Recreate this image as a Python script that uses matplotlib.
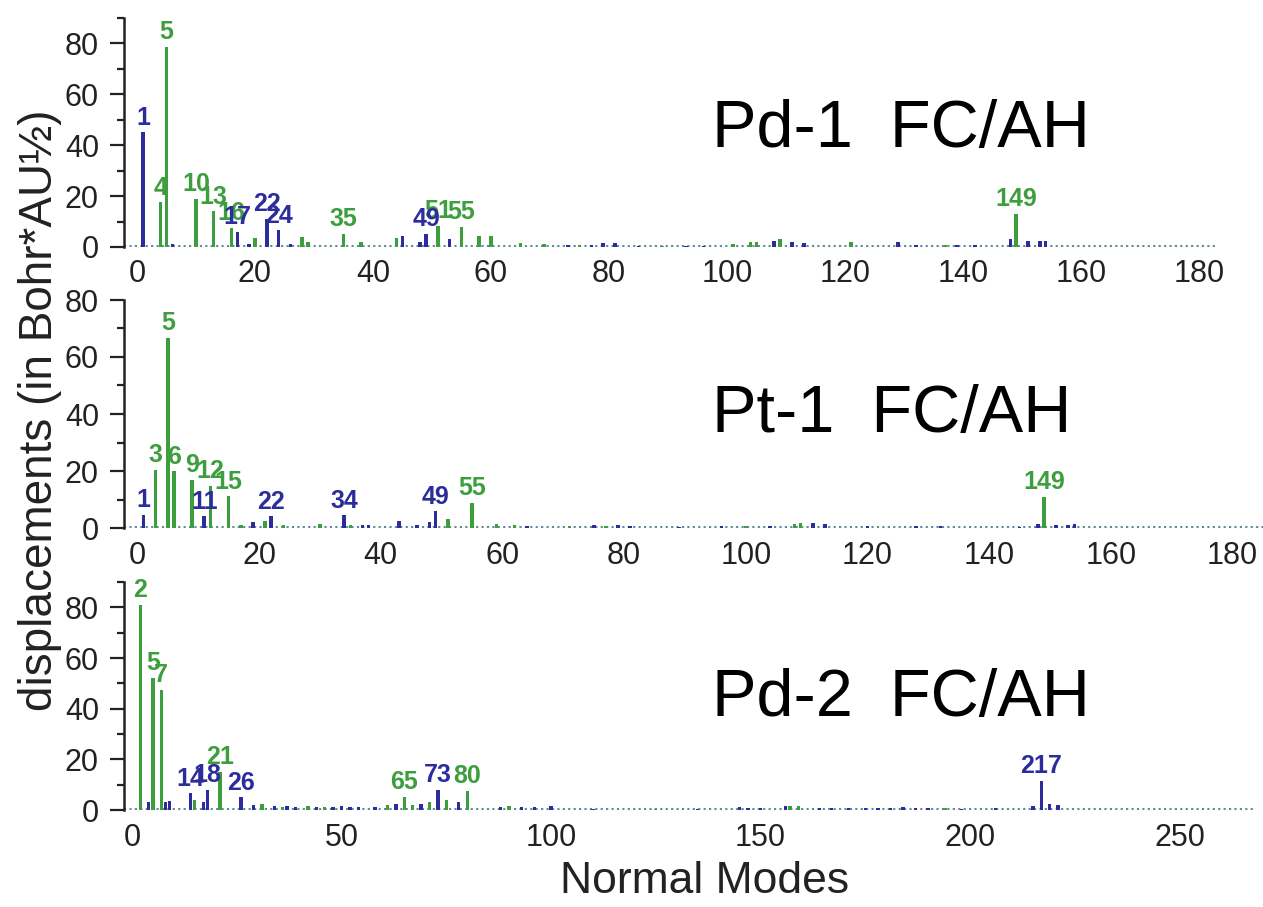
import matplotlib
matplotlib.use('Agg')
import matplotlib.pyplot as plt
from matplotlib.ticker import MultipleLocator

plt.rcParams['font.family'] = ['Liberation Sans', 'DejaVu Sans']

GREEN = '#3d9e3d'
BLUE = '#2c2c9c'

# Pd-1 FC/AH
pd1_green_modes = [4, 5, 10, 13, 16, 20, 28, 29, 35, 38, 44, 51, 55, 58, 60, 65, 69, 75, 89, 101, 104, 105, 109, 121, 137, 149]
pd1_green_vals = [17.5, 78.5, 18.8, 14.0, 7.5, 3.6, 4.0, 2.0, 5.2, 2.0, 3.5, 8.2, 7.8, 4.5, 4.5, 1.5, 1.0, 0.6, 0.5, 1.0, 2.0, 2.0, 3.0, 2.0, 0.6, 13.0]
pd1_blue_modes = [1, 6, 17, 19, 22, 24, 26, 45, 48, 49, 53, 73, 77, 79, 81, 85, 93, 96, 108, 111, 113, 129, 132, 139, 142, 148, 151, 153, 154]
pd1_blue_vals = [45.0, 1.0, 6.0, 1.0, 11.0, 6.5, 1.0, 4.5, 2.0, 5.2, 3.0, 0.6, 0.6, 1.5, 1.5, 0.5, 0.5, 0.5, 2.5, 2.0, 1.5, 2.0, 0.6, 0.6, 0.6, 3.0, 2.5, 2.5, 2.5]
pd1_green_labels = [4, 5, 10, 13, 16, 35, 51, 55, 149]
pd1_blue_labels = [1, 17, 22, 24, 49]

# Pt-1 FC/AH
pt1_green_modes = [3, 5, 6, 9, 12, 15, 17, 21, 24, 30, 35, 51, 55, 59, 62, 71, 77, 100, 108, 109, 149]
pt1_green_vals = [20.4, 66.6, 19.9, 17.0, 14.8, 11.1, 1.0, 2.5, 1.0, 1.5, 1.0, 3.0, 8.8, 1.5, 1.0, 0.6, 0.8, 0.6, 1.5, 1.8, 10.9]
pt1_blue_modes = [1, 11, 19, 22, 34, 37, 38, 43, 46, 48, 49, 64, 75, 79, 81, 89, 96, 104, 111, 113, 120, 128, 132, 145, 148, 151, 153, 154]
pt1_blue_vals = [4.7, 4.1, 2.0, 4.1, 4.4, 1.0, 1.0, 2.5, 1.0, 2.0, 5.8, 0.8, 1.0, 1.0, 0.8, 0.5, 0.8, 0.8, 1.8, 1.5, 0.8, 0.8, 0.8, 0.5, 1.5, 1.2, 1.0, 1.5]
pt1_green_labels = [3, 5, 6, 9, 12, 15, 55, 149]
pt1_blue_labels = [1, 11, 22, 34, 49]

# Pd-2 FC/AH
pd2_green_modes = [2, 5, 7, 15, 21, 31, 36, 42, 46, 61, 65, 67, 71, 75, 80, 90, 125, 157, 159, 194]
pd2_green_vals = [80.9, 52.0, 47.4, 4.0, 15.0, 2.5, 1.0, 1.5, 1.0, 2.0, 5.3, 2.0, 3.0, 4.0, 7.6, 1.5, 0.5, 1.5, 1.5, 0.6]
pd2_blue_modes = [4, 8, 9, 14, 17, 18, 26, 29, 34, 37, 39, 44, 48, 50, 52, 54, 58, 63, 69, 73, 78, 88, 93, 96, 100,
                  110, 135, 145, 147, 150, 156, 164, 167, 171, 175, 178, 181, 184, 187, 190, 198, 206, 215, 217, 219, 221]
pd2_blue_vals = [3.0, 3.0, 3.5, 6.6, 3.0, 7.9, 5.0, 2.0, 1.5, 1.5, 1.0, 1.0, 1.0, 1.5, 1.0, 1.0, 1.0, 2.5, 2.5, 7.9, 3.0, 1.0, 1.0, 1.0, 1.5,
                 0.5, 0.5, 1.0, 0.8, 0.8, 1.5, 0.8, 0.8, 0.8, 0.8, 0.8, 0.8, 1.0, 0.8, 0.8, 0.5, 0.8, 1.5, 11.4, 2.5, 2.0]
pd2_green_labels = [2, 5, 7, 21, 65, 80]
pd2_blue_labels = [14, 18, 26, 73, 217]

W, H = 1263, 907
fig = plt.figure(figsize=(W / 100, H / 100), dpi=100)


def px_axes(left, top, right, bottom):
    return fig.add_axes([left / W, 1 - bottom / H, (right - left) / W, (bottom - top) / H])


panels = [
    dict(box=(124, 18, 1218, 247), xlim=(-2.2, 183.2), ylim=(0, 90), xstep=20, width=0.6,
         g=(pd1_green_modes, pd1_green_vals), b=(pd1_blue_modes, pd1_blue_vals),
         gl=pd1_green_labels, bl=pd1_blue_labels, title='Pd-1  FC/AH', tpos=(712, 147)),
    dict(box=(124, 300, 1263, 528), xlim=(-2.2, 185.0), ylim=(0, 80), xstep=20, width=0.6,
         g=(pt1_green_modes, pt1_green_vals), b=(pt1_blue_modes, pt1_blue_vals),
         gl=pt1_green_labels, bl=pt1_blue_labels, title='Pt-1  FC/AH', tpos=(712, 432)),
    dict(box=(124, 582, 1255, 810), xlim=(-1.9, 268), ylim=(0, 90), xstep=50, width=0.8,
         g=(pd2_green_modes, pd2_green_vals), b=(pd2_blue_modes, pd2_blue_vals),
         gl=pd2_green_labels, bl=pd2_blue_labels, title='Pd-2  FC/AH', tpos=(712, 716)),
]

for p in panels:
    ax = px_axes(*p['box'])
    gm, gv = p['g']
    bm, bv = p['b']
    # dotted baseline of the many tiny displacements
    ax.plot(p['xlim'], [0.3, 0.3], color='#4f7f8f', lw=1.3, ls=(0, (1.2, 1.8)), zorder=1)
    ax.bar(gm, gv, width=p['width'], color=GREEN, zorder=2)
    ax.bar(bm, bv, width=p['width'], color=BLUE, zorder=2)
    for labels, modes, vals, col in [(p['gl'], gm, gv, GREEN), (p['bl'], bm, bv, BLUE)]:
        for m in labels:
            v = vals[modes.index(m)]
            ax.annotate(str(m), (m, v), xytext=(0, 2), textcoords='offset points',
                        ha='center', va='bottom', color=col, fontsize=18,
                        fontweight='bold', annotation_clip=False)
    ax.set_xlim(*p['xlim'])
    ax.set_ylim(*p['ylim'])
    for s in ['top', 'right', 'bottom']:
        ax.spines[s].set_visible(False)
    ax.spines['left'].set_linewidth(1.8)
    ax.spines['left'].set_color('#222222')
    ax.yaxis.set_major_locator(MultipleLocator(20))
    ax.yaxis.set_minor_locator(MultipleLocator(10))
    ax.xaxis.set_major_locator(MultipleLocator(p['xstep']))
    ax.tick_params(axis='y', which='major', length=10, width=1.6, labelsize=22, pad=8,
                   color='#222222', labelcolor='#222222')
    ax.tick_params(axis='y', which='minor', length=5, width=1.6, color='#222222')
    ax.tick_params(axis='x', length=0, labelsize=22, pad=9, labelcolor='#222222')
    ax.set_xticks([t for t in ax.get_xticks() if 0 <= t <= p['xlim'][1]])
    ax.patch.set_alpha(0)
    fig.text(p['tpos'][0] / W, 1 - p['tpos'][1] / H, p['title'], fontsize=48,
             ha='left', va='baseline', color='black')

fig.text(40 / W, 1 - 410 / H, 'displacements (in Bohr*AU\u00bd)', rotation=90,
         fontsize=33, ha='center', va='center', color='#222222')
fig.text(705 / W, 1 - 893 / H, 'Normal Modes', fontsize=32, ha='center',
         va='baseline', color='#222222')

fig.savefig('out.png', dpi=100)
